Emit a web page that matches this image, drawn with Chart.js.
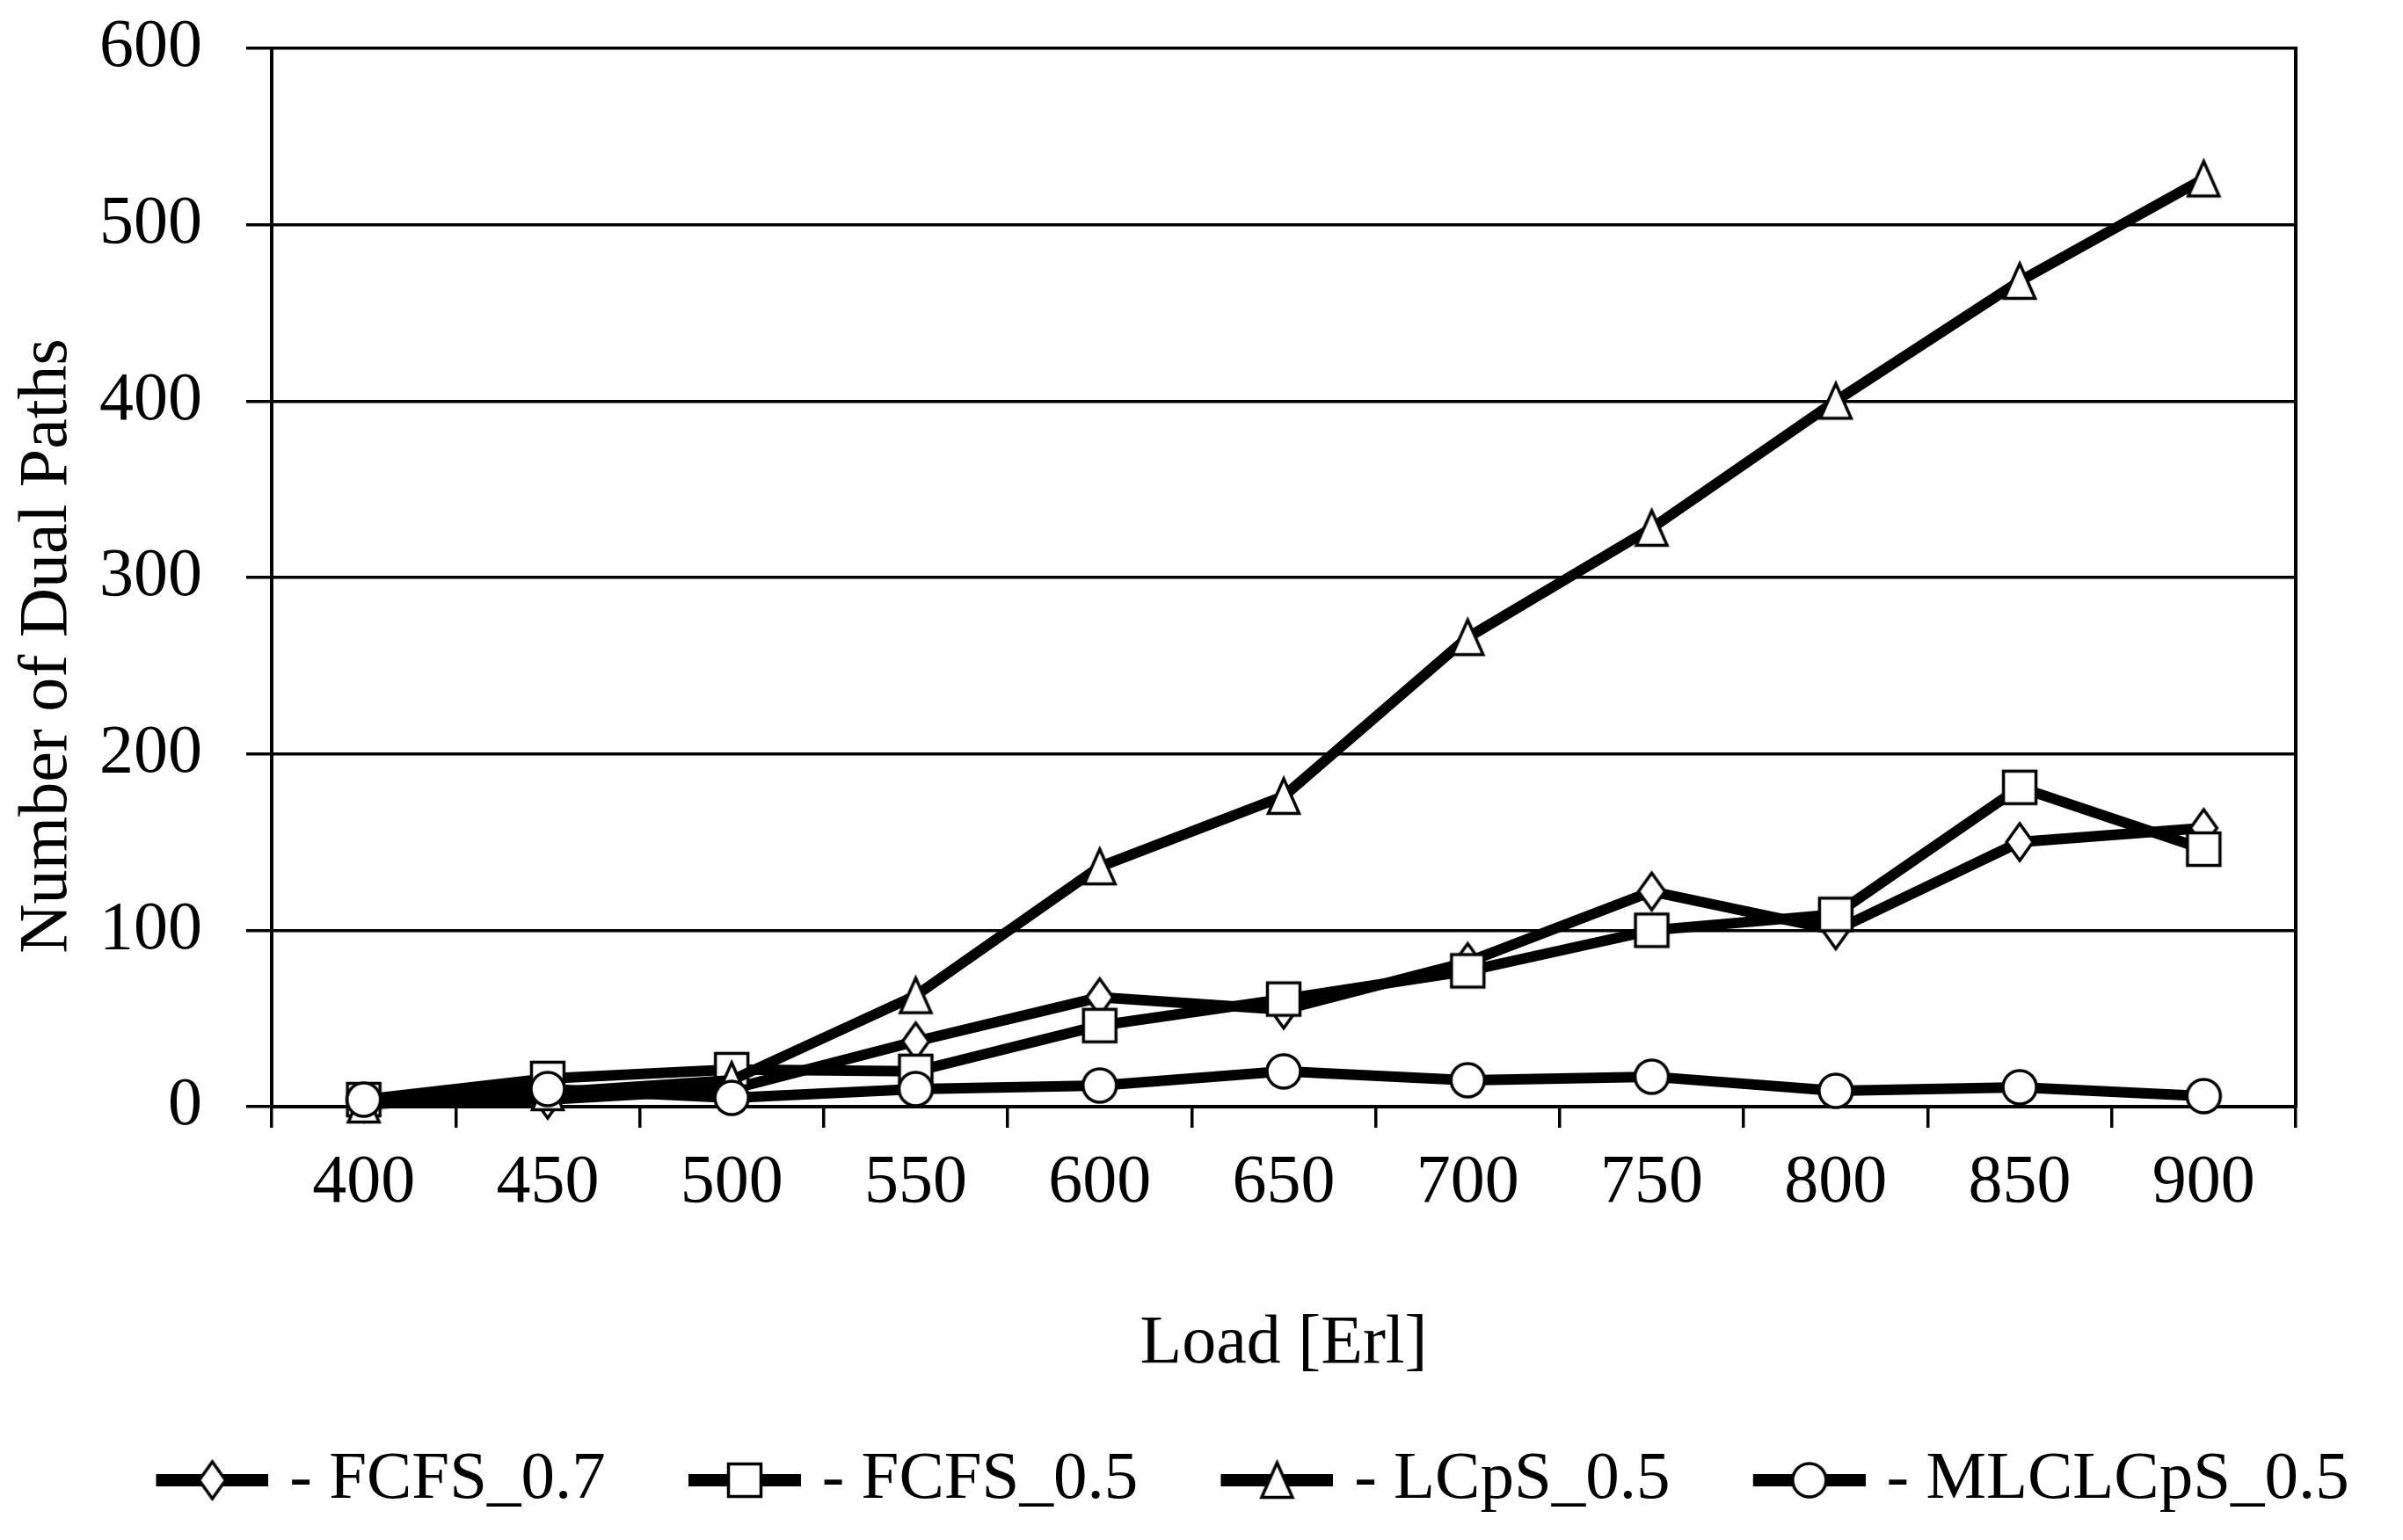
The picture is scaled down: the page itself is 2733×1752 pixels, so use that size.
<!DOCTYPE html>
<html>
<head>
<meta charset="utf-8">
<script src="https://cdn.jsdelivr.net/npm/chart.js@4.4.1/dist/chart.umd.min.js"></script>
<style>
  html, body { margin: 0; padding: 0; background: #fff; }
  #wrap { width: 2733px; height: 1752px; position: relative; }
</style>
</head>
<body>
<div id="wrap"><canvas id="c" width="2733" height="1752"></canvas></div>
<script>
// ---- data ----
const categories = ['400', '450', '500', '550', '600', '650', '700', '750', '800', '850', '900'];
const fcfs07    = [2, 4, 10, 37, 62, 55, 82, 122, 100, 150, 158];
const fcfs05    = [4, 16, 21, 20, 46, 61, 77, 100, 109, 181, 146];
const lcps05    = [1, 8, 15, 63, 136, 176, 266, 328, 400, 468, 526];
const mlclcps05 = [4, 10, 5, 10, 12, 20, 15, 17, 9, 11, 6];
const seriesNames = ['FCFS_0.7', 'FCFS_0.5', 'LCpS_0.5', 'MLCLCpS_0.5'];
const markerTypes = ['diamond', 'square', 'triangle', 'circle'];
const yMin = 0, yMax = 600, yStep = 100;

const FONT = "'Liberation Serif', 'Times New Roman', serif";

function drawMarkerShape(g, type, cx, cy) {
  g.beginPath();
  if (type === 'diamond') {
    g.moveTo(cx, cy - 21); g.lineTo(cx + 15, cy); g.lineTo(cx, cy + 21); g.lineTo(cx - 15, cy); g.closePath();
  } else if (type === 'square') {
    g.rect(cx - 18.5, cy - 18.5, 37, 37);
  } else if (type === 'triangle') {
    g.moveTo(cx, cy - 20); g.lineTo(cx + 17.5, cy + 19.5); g.lineTo(cx - 17.5, cy + 19.5); g.closePath();
  } else {
    g.arc(cx, cy, 19, 0, Math.PI * 2);
  }
  g.fillStyle = '#fff';
  g.fill();
  g.lineWidth = 3.5;
  g.strokeStyle = '#000';
  g.stroke();
}

function makeMarker(type) {
  const c = document.createElement('canvas');
  c.width = 48; c.height = 50;
  const g = c.getContext('2d');
  drawMarkerShape(g, type, 24, 25);
  return c;
}

const LEG_BOX = 187.5;
function makeLegendSymbol(type) {
  const c = document.createElement('canvas');
  c.width = Math.round(LEG_BOX + 29); c.height = 50;
  const g = c.getContext('2d');
  const cy = 25;
  g.fillStyle = '#000';
  g.fillRect(c.width - 128, cy - 7, 128, 14);
  drawMarkerShape(g, type, c.width - 64, cy);
  return c;
}

const markerImgs = markerTypes.map(makeMarker);
const legendImgs = markerTypes.map(makeLegendSymbol);
const seriesData = [fcfs07, fcfs05, lcps05, mlclcps05];

const datasets = seriesData.map((d, i) => ({
  label: seriesNames[i],
  data: d,
  borderColor: '#000',
  backgroundColor: '#000',
  borderWidth: 12,
  pointStyle: markerImgs[i],
  pointRadius: 10,
  tension: 0,
  clip: false,
  order: 4 - i
}));

new Chart(document.getElementById('c'), {
  type: 'line',
  data: { labels: categories, datasets },
  options: {
    responsive: false,
    devicePixelRatio: 1,
    animation: false,
    events: [],
    layout: { padding: { left: 42, right: 0, top: 55, bottom: 19.5 } },
    plugins: {
      tooltip: { enabled: false },
      legend: {
        position: 'bottom',
        align: 'center',
        labels: {
          usePointStyle: true,
          pointStyleWidth: LEG_BOX,
          padding: 20,
          color: '#000',
          font: { family: FONT, size: 77 },
          generateLabels: (chart) => chart.data.datasets.map((ds, i) => ({
            text: '- ' + ds.label,
            pointStyle: legendImgs[i],
            datasetIndex: i,
            hidden: false,
            fontColor: '#000',
            lineWidth: 0,
            strokeStyle: 'rgba(0,0,0,0)',
            fillStyle: 'rgba(0,0,0,0)'
          }))
        }
      }
    },
    scales: {
      x: {
        type: 'category',
        offset: true,
        grid: { display: true, offset: true, drawOnChartArea: false, drawTicks: true, tickLength: 24, color: '#000', lineWidth: 3.5 },
        border: { display: true, color: '#000', width: 4 },
        ticks: { color: '#000', padding: 17, maxRotation: 0, autoSkip: false, font: { family: FONT, size: 78 } },
        title: { display: true, text: 'Load [Erl]', color: '#000', padding: { top: 0, bottom: 49 }, font: { family: FONT, size: 78 } },
        afterFit: (s) => { s.height = 366.5; s.paddingLeft = 0; s.paddingRight = 0; }
      },
      y: {
        min: yMin, max: yMax,
        grid: { color: '#000', lineWidth: 3.5, drawTicks: true, tickLength: 29 },
        border: { display: true, color: '#000', width: 4 },
        ticks: { stepSize: yStep, color: '#000', padding: 50, font: { family: FONT, size: 78 } },
        title: { display: true, text: 'Number of Dual Paths        ', color: '#000', padding: { top: -34, bottom: 0 }, font: { family: FONT, size: 78 } },
        afterFit: (s) => { s.width = 267; s.paddingTop = 0; s.paddingBottom = 0; }
      },
      y2: {
        position: 'right',
        grid: { drawOnChartArea: false, drawTicks: false },
        border: { display: true, color: '#000', width: 4 },
        ticks: { display: false },
        afterFit: (s) => { s.width = 122; s.paddingTop = 0; s.paddingBottom = 0; }
      }
    }
  }
});
</script>
</body>
</html>
